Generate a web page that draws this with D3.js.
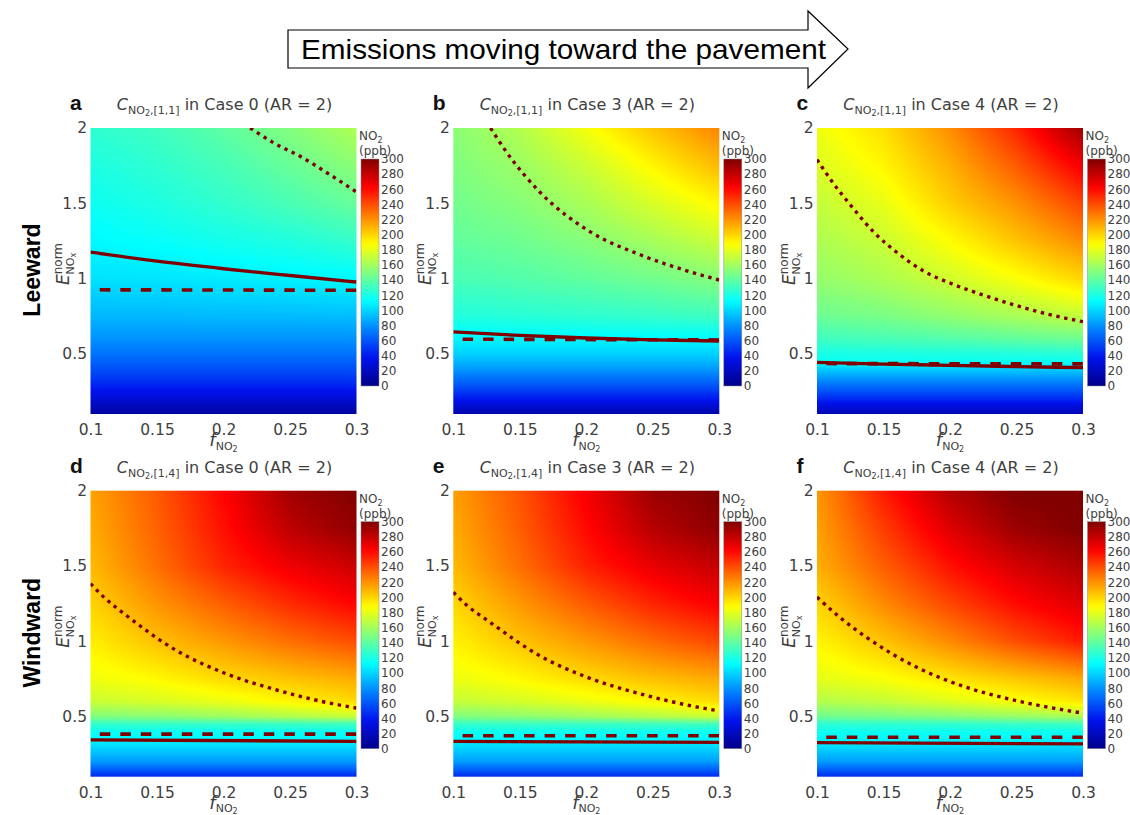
<!DOCTYPE html>
<html>
<head>
<meta charset="utf-8">
<script src="https://cdn.jsdelivr.net/npm/d3@7"></script>
<style>
  body { margin: 0; background: #fff; }
  svg text { font-family: "DejaVu Sans", Verdana, sans-serif; }
</style>
</head>
<body>
<svg id="chart" width="1130" height="815"></svg>
<script>
// axis ticks
const fTicks = [0.1, 0.15, 0.2, 0.25, 0.3];
const eTicks = [0.5, 1, 1.5, 2];
const cbTicks = [0, 20, 40, 60, 80, 100, 120, 140, 160, 180, 200, 220, 240, 260, 280, 300];

const gridF = [0.1, 0.15, 0.2, 0.25, 0.3];
const gridE = [0.1, 0.2, 0.3, 0.35, 0.4, 0.45, 0.5, 0.6, 0.75, 1.0, 1.25, 1.5, 1.75, 2.0];

// NO2 (ppb), rows follow gridE (bottom -> top), columns follow gridF
const case0_11 = [
  [8, 8, 8, 8, 8],
  [28, 28, 28, 28, 28],
  [45, 45, 45, 45, 45],
  [52, 52, 52, 52, 52],
  [58, 58, 58, 58, 58],
  [64, 64, 64, 64, 64],
  [70, 70, 70, 70, 70],
  [80, 80, 80, 80, 80],
  [91, 91, 92, 92, 93],
  [104, 105, 107, 109, 111],
  [111, 114, 118, 122, 128],
  [116, 121, 127, 134, 143],
  [121, 126, 133, 143, 153],
  [126, 131, 140, 151, 164]
];
const case3_11 = [
  [12, 12, 12, 12, 12],
  [40, 40, 40, 40, 40],
  [62, 62, 62, 62, 62],
  [72, 72, 72, 72, 72],
  [82, 82, 82, 82, 82],
  [91, 91, 91, 91, 91],
  [99, 99, 99, 99, 99],
  [110, 110, 110, 111, 111],
  [122, 124, 126, 128, 131],
  [134, 137, 141, 146, 152],
  [141, 145, 152, 161, 172],
  [146, 152, 162, 176, 190],
  [150, 158, 172, 190, 208],
  [153, 165, 185, 205, 224]
];
const case4_11 = [
  [15, 15, 15, 15, 15],
  [45, 45, 45, 45, 45],
  [72, 72, 72, 72, 72],
  [85, 85, 85, 85, 85],
  [98, 98, 98, 98, 98],
  [116, 116, 116, 116, 116],
  [119, 120, 121, 122, 124],
  [131, 134, 137, 141, 145],
  [144, 148, 155, 162, 170],
  [156, 163, 174, 186, 200],
  [163, 172, 188, 205, 222],
  [170, 181, 202, 220, 243],
  [177, 190, 211, 236, 266],
  [183, 197, 221, 252, 292]
];
const case0_14 = [
  [45, 45, 45, 45, 45],
  [82, 82, 82, 82, 82],
  [102, 102, 102, 102, 102],
  [110, 110, 110, 110, 110],
  [116, 116, 116, 116, 116],
  [127, 128, 129, 130, 131],
  [150, 153, 158, 164, 171],
  [172, 176, 182, 190, 198],
  [183, 189, 198, 205, 212],
  [192, 206, 218, 230, 240],
  [200, 219, 235, 250, 262],
  [208, 230, 252, 267, 278],
  [212, 234, 258, 282, 295],
  [215, 236, 262, 290, 300]
];
const case3_14 = [
  [45, 45, 45, 45, 45],
  [83, 83, 83, 83, 83],
  [102, 102, 102, 102, 102],
  [110, 110, 110, 110, 110],
  [117, 117, 117, 117, 117],
  [128, 129, 130, 131, 132],
  [150, 154, 159, 165, 172],
  [170, 175, 182, 190, 198],
  [182, 189, 198, 206, 213],
  [191, 205, 218, 231, 242],
  [199, 218, 236, 252, 264],
  [208, 230, 253, 269, 280],
  [212, 235, 260, 284, 296],
  [216, 238, 265, 292, 300]
];
const case4_14 = [
  [45, 45, 45, 45, 45],
  [83, 83, 83, 83, 83],
  [102, 102, 102, 102, 102],
  [111, 111, 111, 111, 111],
  [117, 117, 117, 117, 117],
  [125, 126, 127, 129, 131],
  [145, 148, 152, 157, 163],
  [165, 170, 178, 186, 195],
  [180, 186, 195, 204, 213],
  [190, 205, 222, 240, 255],
  [200, 222, 242, 260, 272],
  [211, 235, 258, 275, 287],
  [215, 245, 272, 292, 300],
  [218, 255, 285, 300, 300]
];

// threshold curves [f, E]
const dotA = [[0.22, 2.0], [0.238, 1.9], [0.258, 1.81], [0.28, 1.69], [0.3, 1.575]];
const solidA = [[0.1, 1.175], [0.15, 1.115], [0.2, 1.065], [0.25, 1.02], [0.3, 0.977]];
const dashA = [[0.107, 0.925], [0.3, 0.922]];

const dotB = [[0.128, 2.0], [0.14, 1.84], [0.165, 1.575], [0.203, 1.31], [0.241, 1.156], [0.278, 1.045], [0.3, 0.99]];
const solidB = [[0.1, 0.645], [0.15, 0.622], [0.2, 0.605], [0.25, 0.593], [0.3, 0.585]];
const dashB = [[0.107, 0.597], [0.3, 0.592]];

const dotC = [[0.1, 1.79], [0.1125, 1.63], [0.125, 1.49], [0.1425, 1.31], [0.1626, 1.156], [0.18, 1.05], [0.2, 0.97], [0.225, 0.89], [0.25, 0.82], [0.275, 0.76], [0.3, 0.713]];
const solidC = [[0.1, 0.443], [0.15, 0.432], [0.2, 0.423], [0.25, 0.415], [0.3, 0.408]];
const dashC = [[0.107, 0.435], [0.3, 0.433]];

const dotD = [[0.1, 1.383], [0.11, 1.293], [0.127, 1.171], [0.1647, 0.938], [0.2023, 0.783], [0.24, 0.676], [0.2775, 0.593], [0.3, 0.556]];
const solidD = [[0.1, 0.345], [0.3, 0.335]];
const dashD = [[0.107, 0.383], [0.3, 0.383]];

const dotE = [[0.1, 1.325], [0.11, 1.24], [0.127, 1.13], [0.1647, 0.905], [0.2023, 0.755], [0.24, 0.652], [0.2775, 0.573], [0.3, 0.537]];
const solidE = [[0.1, 0.335], [0.3, 0.328]];
const dashE = [[0.107, 0.372], [0.3, 0.372]];

const dotF = [[0.1, 1.293], [0.117, 1.16], [0.137, 1.027], [0.175, 0.827], [0.2126, 0.693], [0.25, 0.605], [0.2877, 0.54], [0.3, 0.522]];
const solidF = [[0.1, 0.326], [0.3, 0.318]];
const dashF = [[0.107, 0.362], [0.3, 0.362]];

const panels = [
  {letter: 'a', cell: '[1,1]', caseNo: 0, grid: case0_11, dot: dotA, solid: solidA, dash: dashA, col: 0, row: 0},
  {letter: 'b', cell: '[1,1]', caseNo: 3, grid: case3_11, dot: dotB, solid: solidB, dash: dashB, col: 1, row: 0},
  {letter: 'c', cell: '[1,1]', caseNo: 4, grid: case4_11, dot: dotC, solid: solidC, dash: dashC, col: 2, row: 0},
  {letter: 'd', cell: '[1,4]', caseNo: 0, grid: case0_14, dot: dotD, solid: solidD, dash: dashD, col: 0, row: 1},
  {letter: 'e', cell: '[1,4]', caseNo: 3, grid: case3_14, dot: dotE, solid: solidE, dash: dashE, col: 1, row: 1},
  {letter: 'f', cell: '[1,4]', caseNo: 4, grid: case4_14, dot: dotF, solid: solidF, dash: dashF, col: 2, row: 1}
];

// layout
const colLeft = [90.5, 453.3, 817];
const rowTop = [128, 490.7];
const plotW = 266, plotH = 286;
const lineColor = '#800000';
const textColor = '#404040';

const svg = d3.select('#chart');
const defs = svg.append('defs');

// jet colour map (slightly softened blues, as printed)
const jet = d3.scaleLinear()
  .domain([0, 37.5, 75, 112.5, 150, 187.5, 225, 262.5, 300])
  .range(['#000088', '#0012ee', '#0082ff', '#00ffff', '#80ff80', '#ffff00', '#ff8000', '#ff0000', '#800000'])
  .clamp(true);
const lut = d3.range(0, 601).map(i => d3.rgb(jet(i / 2)));

// colorbar gradient
const grad = defs.append('linearGradient').attr('id', 'jetGrad')
  .attr('x1', 0).attr('y1', 1).attr('x2', 0).attr('y2', 0);
grad.selectAll('stop').data(d3.range(0, 301, 5)).enter().append('stop')
  .attr('offset', d => d / 300)
  .attr('stop-color', d => jet(d));

function sampleGrid(grid, f, e) {
  const i = Math.max(0, Math.min(gridF.length - 2, d3.bisectRight(gridF, f) - 1));
  const j = Math.max(0, Math.min(gridE.length - 2, d3.bisectRight(gridE, e) - 1));
  const tx = Math.max(0, Math.min(1, (f - gridF[i]) / (gridF[i + 1] - gridF[i])));
  const ty = Math.max(0, Math.min(1, (e - gridE[j]) / (gridE[j + 1] - gridE[j])));
  const lo = grid[j][i] * (1 - tx) + grid[j][i + 1] * tx;
  const hi = grid[j + 1][i] * (1 - tx) + grid[j + 1][i + 1] * tx;
  return lo * (1 - ty) + hi * ty;
}

panels.forEach((p, k) => {
  const g = svg.append('g').attr('transform', `translate(${colLeft[p.col]},${rowTop[p.row]})`);
  const x = d3.scaleLinear().domain([0.1, 0.3]).range([0, plotW]);
  const y = d3.scaleLinear().domain([0.1, 2]).range([plotH, 0]);

  // heat map
  const cv = document.createElement('canvas');
  cv.width = plotW; cv.height = plotH;
  const ctx = cv.getContext('2d');
  const img = ctx.createImageData(plotW, plotH);
  for (let py = 0; py < plotH; py++) {
    const e = y.invert(py + 0.5);
    for (let px = 0; px < plotW; px++) {
      const v = sampleGrid(p.grid, x.invert(px + 0.5), e);
      const c = lut[Math.max(0, Math.min(600, Math.round(v * 2)))];
      const o = (py * plotW + px) * 4;
      img.data[o] = c.r; img.data[o + 1] = c.g; img.data[o + 2] = c.b; img.data[o + 3] = 255;
    }
  }
  ctx.putImageData(img, 0, 0);
  g.append('image').attr('href', cv.toDataURL())
    .attr('width', plotW).attr('height', plotH).attr('preserveAspectRatio', 'none');

  // lines
  defs.append('clipPath').attr('id', 'clip' + k)
    .append('rect').attr('width', plotW).attr('height', plotH);
  const line = d3.line().x(d => x(d[0])).y(d => y(d[1])).curve(d3.curveMonotoneX);
  const lg = g.append('g').attr('clip-path', `url(#clip${k})`).attr('fill', 'none').attr('stroke', lineColor);
  lg.append('path').attr('d', line(p.solid)).attr('stroke-width', 3.3);
  lg.append('path').attr('d', line(p.dash)).attr('stroke-width', 3.6).attr('stroke-dasharray', '10.5,10');
  lg.append('path').attr('d', line(p.dot)).attr('stroke-width', 3.4).attr('stroke-dasharray', '3.4,4.6');

  // axes
  const ax = g.append('g').attr('transform', `translate(0,${plotH})`)
    .call(d3.axisBottom(x).tickValues(fTicks).tickSize(0).tickPadding(10).tickFormat(d => String(d)));
  const ay = g.append('g')
    .call(d3.axisLeft(y).tickValues(eTicks).tickSize(0).tickPadding(3.5).tickFormat(d => String(d)));
  [ax, ay].forEach(a => {
    a.select('.domain').remove();
    a.selectAll('text').attr('fill', textColor).style('font-size', '15.5px')
      .style('font-family', '"DejaVu Sans", Verdana, sans-serif');
  });

  // x label f_NO2
  const xl = g.append('text').attr('x', plotW / 2).attr('y', plotH + 32)
    .attr('text-anchor', 'middle').attr('fill', textColor).style('font-size', '18px');
  xl.append('tspan').text('f').style('font-style', 'italic');
  xl.append('tspan').attr('dy', 3.5).style('font-size', '11px').text('NO');
  xl.append('tspan').attr('dy', 2).style('font-size', '8px').text('2');

  // y label E_NOx^norm
  const yl = g.append('text').attr('transform', `translate(-22,136) rotate(-90)`)
    .attr('text-anchor', 'middle').attr('fill', textColor).style('font-size', '17px');
  yl.append('tspan').text('E').style('font-style', 'italic');
  yl.append('tspan').attr('dy', -7).style('font-size', '12px').text('norm');
  yl.append('tspan').attr('dx', -31.5).attr('dy', 12).style('font-size', '11px').text('NO');
  yl.append('tspan').attr('dy', 2).style('font-size', '8px').text('x');

  // title
  g.append('text').attr('x', -20.5).attr('y', -18)
    .style('font-family', '"Liberation Sans", Arial, sans-serif')
    .style('font-weight', 'bold').style('font-size', '21px').attr('fill', '#111').text(p.letter);
  const t = g.append('text').attr('x', plotW / 2 + 1).attr('y', -18)
    .attr('text-anchor', 'middle').attr('fill', textColor).style('font-size', '16px');
  t.append('tspan').text('C').style('font-style', 'italic');
  t.append('tspan').attr('dy', 4).style('font-size', '11px').text('NO');
  t.append('tspan').attr('dy', 2).style('font-size', '8px').text('2');
  t.append('tspan').attr('dy', -2).style('font-size', '11px').text(',' + p.cell);
  t.append('tspan').attr('dy', -4).text(' in Case ' + p.caseNo + ' (AR = 2)');

  // colorbar
  const cbX = plotW + 4.5, cbTop = 31, cbH = 227, cbW = 18;
  const cbY = d3.scaleLinear().domain([0, 300]).range([cbTop + cbH, cbTop]);
  g.append('rect').attr('x', cbX).attr('y', cbTop).attr('width', cbW).attr('height', cbH)
    .attr('fill', 'url(#jetGrad)').attr('stroke', '#888').attr('stroke-width', 0.5);
  const cb = g.append('g').attr('transform', `translate(${cbX + cbW},0)`)
    .call(d3.axisRight(cbY).tickValues(cbTicks).tickSize(0).tickPadding(2));
  cb.select('.domain').remove();
  cb.selectAll('text').attr('fill', textColor).style('font-size', '12px')
    .style('font-family', '"DejaVu Sans", Verdana, sans-serif');
  const u1 = g.append('text').attr('x', cbX - 2).attr('y', cbTop - 19)
    .attr('fill', textColor).style('font-size', '12px');
  u1.append('tspan').text('NO');
  u1.append('tspan').attr('dy', 3).style('font-size', '8px').text('2');
  g.append('text').attr('x', cbX - 2).attr('y', cbTop - 4)
    .attr('fill', textColor).style('font-size', '12px').text('(ppb)');
});

// row labels
const rowNames = ['Leeward', 'Windward'];
rowNames.forEach((name, r) => {
  svg.append('text').attr('transform', `translate(40,${rowTop[r] + 142}) rotate(-90)`)
    .attr('text-anchor', 'middle').style('font-family', '"Liberation Sans", Arial, sans-serif')
    .style('font-weight', 'bold').style('font-size', '23px').attr('fill', '#000').text(name);
});

// header arrow
const arrow = d3.path();
arrow.moveTo(288, 30); arrow.lineTo(808, 30); arrow.lineTo(808, 11);
arrow.lineTo(848, 49); arrow.lineTo(808, 88); arrow.lineTo(808, 68);
arrow.lineTo(288, 68); arrow.closePath();
svg.append('path').attr('d', arrow.toString()).attr('fill', '#fff')
  .attr('stroke', '#000').attr('stroke-width', 1.2);
svg.append('text').attr('x', 301).attr('y', 59)
  .attr('textLength', 525).attr('lengthAdjust', 'spacingAndGlyphs')
  .style('font-family', '"Liberation Sans", Arial, sans-serif').style('font-size', '28px')
  .attr('fill', '#000').text('Emissions moving toward the pavement');
</script>
</body>
</html>
